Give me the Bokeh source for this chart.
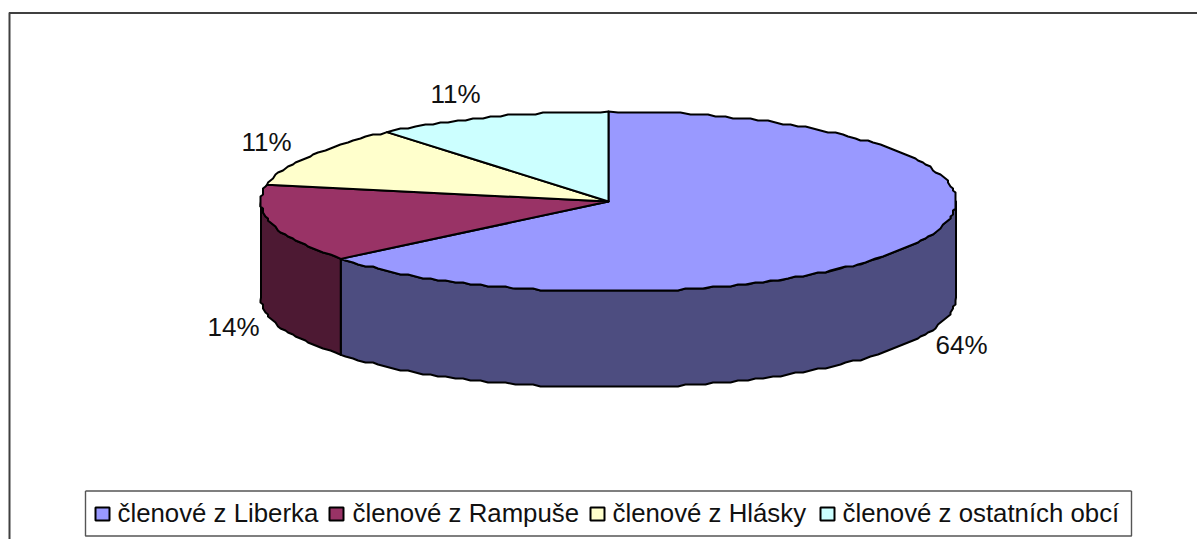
import numpy as np
from bokeh.embed import file_html
from bokeh.models import Range1d
from bokeh.plotting import figure
from bokeh.resources import INLINE
from bokeh.core.properties import value

# data
categories = ["členové z Liberka", "členové z Rampuše", "členové z Hlásky", "členové z ostatních obcí"]
values = [64, 14, 11, 11]
labels = ["64%", "14%", "11%", "11%"]
top_colors = ["#9999FF", "#993366", "#FFFFCC", "#CCFFFF"]
side_colors = ["#4D4D80", "#4D1933", "#80805F", "#668080"]

# layout (screen pixels)
W, H = 1197, 539
CX, CY, RX, RY, DEPTH = 608.0, 201.0, 347.5, 90.0, 96.0
label_xy = [(961, 344), (233, 326), (266, 141), (455, 93)]
swatch_x = [95, 329, 590, 820]
text_x = [117, 352, 612, 842]
FONT = value("Liberation Sans")


def pt(theta_deg, dy=0.0, jag=False):
    t = np.radians(theta_deg)
    x = CX + RX * np.sin(t)
    y = CY - RY * np.cos(t) + dy
    if jag:
        x, y = np.round(x / 2.5) * 2.5, np.round(y / 2) * 2
    return x, y


def arc(a0, a1, dy=0.0):
    n = max(2, int(abs(a1 - a0) / 1.5) + 1)
    ts = np.linspace(a0, a1, n)
    xs, ys = [], []
    for i, t in enumerate(ts):
        x, y = pt(t, dy, jag=0 < i < n - 1)
        xs.append(float(x))
        ys.append(float(y))
    return xs, ys


p = figure(width=W, height=H, toolbar_location=None, output_backend="svg",
           x_range=Range1d(0, W), y_range=Range1d(H, 0),
           min_border=0, outline_line_color=None, background_fill_color="white")
p.axis.visible = False
p.grid.visible = False

# chart frame: top and left edges only, as the picture is cut at right and bottom
p.line([8.5, W], [12.5, 12.5], line_color="black", line_width=1.5)
p.line([9, 9], [12, H], line_color="#404040", line_width=2)

angles = np.concatenate([[0.0], np.cumsum(values) / np.sum(values) * 360.0])

# side walls (only the visible front half, 90..270 degrees)
for i in range(len(values)):
    a0, a1 = max(angles[i], 90.0), min(angles[i + 1], 270.0)
    if a1 <= a0:
        continue
    xt, yt = arc(a0, a1)
    xb, yb = arc(a0, a1, DEPTH)
    p.patch(xt + xb[::-1], yt + yb[::-1], fill_color=side_colors[i],
            line_color="black", line_width=2, line_join="round")

# top faces
for i in range(len(values)):
    xa, ya = arc(angles[i], angles[i + 1])
    p.patch([CX] + xa, [CY] + ya, fill_color=top_colors[i],
            line_color="black", line_width=2, line_join="round")

# data labels
for (lx, ly), s in zip(label_xy, labels):
    p.text([lx], [ly], text=[s], text_font=FONT, text_font_size="26px", text_color="#111111",
           text_align="center", text_baseline="middle")

# legend
p.line([85, 1131], [490.5, 490.5], line_color="black", line_width=1.2)
p.line([1131, 1131, 85, 85], [490.5, 535.5, 535.5, 490.5], line_color="#555555", line_width=1.4)
for i, c in enumerate(categories):
    p.quad(left=[swatch_x[i]], right=[swatch_x[i] + 14], top=[507], bottom=[520],
           fill_color=top_colors[i], line_color="black", line_width=2)
    p.text([text_x[i]], [512], text=[c], text_font=FONT, text_font_size="25.8px", text_color="#111111",
           text_align="left", text_baseline="middle")

html = file_html(p, INLINE)
html = html.replace("<head>", "<head><style>html,body{overflow:hidden}</style>", 1)
open("out.html", "w").write(html)
